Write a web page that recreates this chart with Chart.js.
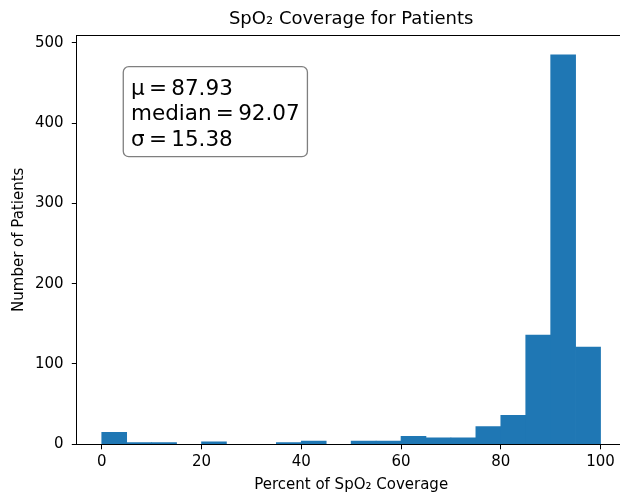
<!DOCTYPE html>
<html>
<head>
<meta charset="utf-8">
<title>SpO2 coverage histogram</title>
<script src="https://cdn.jsdelivr.net/npm/chart.js@4"></script>
<style>
  html, body { margin: 0; padding: 0; overflow: hidden; background: #fff; }
  #wrap { width: 640px; height: 496px; }
</style>
</head>
<body>
<div id="wrap"><canvas id="coverageChart" width="640" height="496"></canvas></div>
<script>
// histogram bins, 5 points wide
const binEdges = [0, 5, 10, 15, 20, 25, 30, 35, 40, 45, 50, 55, 60, 65, 70, 75, 80, 85, 90, 95, 100];
const binCounts = [15, 2, 2, 0, 3, 0, 0, 2, 4, 0, 4, 4, 10, 8, 8, 22, 36, 136, 485, 121];
const xTicks = [0, 20, 40, 60, 80, 100];
const yTicks = [0, 100, 200, 300, 400, 500];
const statLines = ['\u03bc\u2009=\u200987.93', 'median\u2009=\u200992.07', '\u03c3\u2009=\u200915.38'];

const FONT = "'DejaVu Sans', sans-serif";
Chart.defaults.font.family = FONT;
Chart.defaults.color = '#000';

const bars = binCounts.map((c, i) => ({ x: (binEdges[i] + binEdges[i + 1]) / 2, y: c }));

// axes frame drawn on all four sides
const spines = {
  id: 'spines',
  afterDatasetsDraw(chart) {
    const { ctx, chartArea: a } = chart;
    const l = Math.floor(a.left) + 0.5, t = Math.floor(a.top) + 0.5;
    const r = Math.floor(a.right) + 0.5, b = Math.floor(a.bottom) + 0.5;
    ctx.save();
    ctx.strokeStyle = '#000';
    ctx.lineWidth = 1;
    ctx.strokeRect(l, t, r - l, b - t);
    ctx.restore();
  }
};

// rounded box with the summary statistics
const statsBox = {
  id: 'statsBox',
  afterDraw(chart, args, opts) {
    const { ctx, chartArea: a } = chart;
    ctx.save();
    ctx.font = opts.fontSize + 'px ' + FONT;
    const textW = Math.max(...opts.lines.map(s => ctx.measureText(s).width));
    const x = a.left + opts.x * a.width;
    const y = a.top + opts.y * a.height;
    const w = textW + 2 * opts.pad;
    const h = opts.firstBaseline + (opts.lines.length - 1) * opts.lineGap + opts.bottomPad;
    ctx.beginPath();
    ctx.roundRect(x, y, w, h, opts.radius);
    ctx.fillStyle = 'rgba(255,255,255,0.5)';
    ctx.fill();
    ctx.strokeStyle = 'rgba(0,0,0,0.5)';
    ctx.lineWidth = 1.3;
    ctx.stroke();
    ctx.fillStyle = '#000';
    ctx.textBaseline = 'alphabetic';
    opts.lines.forEach((s, i) => {
      ctx.fillText(s, x + opts.pad, y + opts.firstBaseline + i * opts.lineGap);
    });
    ctx.restore();
  }
};

new Chart(document.getElementById('coverageChart'), {
  type: 'bar',
  data: {
    datasets: [{
      data: bars,
      backgroundColor: '#1f77b4',
      borderWidth: 0,
      barPercentage: 1,
      categoryPercentage: 1
    }]
  },
  options: {
    responsive: false,
    animation: false,
    layout: { padding: { left: 0, top: 0, right: 14.5, bottom: 0 } },
    plugins: {
      legend: { display: false },
      tooltip: { enabled: false },
      title: {
        display: true,
        text: 'SpO\u2082 Coverage for Patients',
        color: '#000',
        fullSize: false,
        font: { size: 18, weight: 'normal', lineHeight: 1.2 },
        padding: { top: 8.7, bottom: 5.0 }
      },
      statsBox: {
        lines: statLines,
        fontSize: 21.5,
        x: 0.0847, y: 0.0768,
        pad: 7.7, firstBaseline: 27.8, lineGap: 25.5, bottomPad: 11.2,
        radius: 5.5
      }
    },
    scales: {
      x: {
        type: 'linear',
        min: binEdges[0] - 0.05 * (binEdges[binEdges.length - 1] - binEdges[0]),
        max: binEdges[binEdges.length - 1] + 0.05 * (binEdges[binEdges.length - 1] - binEdges[0]),
        offset: false,
        afterBuildTicks: s => { s.ticks = xTicks.map(v => ({ value: v })); },
        afterFit: s => { s.height = 51.7; },
        ticks: { padding: 4.2, color: '#000', font: { size: 15, lineHeight: 1.2 }, maxRotation: 0 },
        grid: { offset: false, drawOnChartArea: false, drawTicks: true, tickLength: 5, color: '#000', lineWidth: 1 },
        border: { display: false },
        title: {
          display: true,
          text: 'Percent of SpO\u2082 Coverage',
          color: '#000',
          font: { size: 15, lineHeight: 1.2 },
          padding: { top: 0, bottom: 1.7 }
        }
      },
      y: {
        min: 0,
        max: Math.max(...binCounts) * 1.05,
        afterBuildTicks: s => { s.ticks = yTicks.map(v => ({ value: v })); },
        afterFit: s => { s.width = 76.8; },
        ticks: { padding: 8.2, color: '#000', font: { size: 15, lineHeight: 1.2 } },
        grid: { drawOnChartArea: false, drawTicks: true, tickLength: 5, color: '#000', lineWidth: 1 },
        border: { display: false },
        title: {
          display: true,
          text: 'Number of Patients',
          color: '#000',
          font: { size: 15, lineHeight: 1.2 },
          padding: { top: 9.8, bottom: 0 }
        }
      }
    }
  },
  plugins: [spines, statsBox]
});
</script>
</body>
</html>
